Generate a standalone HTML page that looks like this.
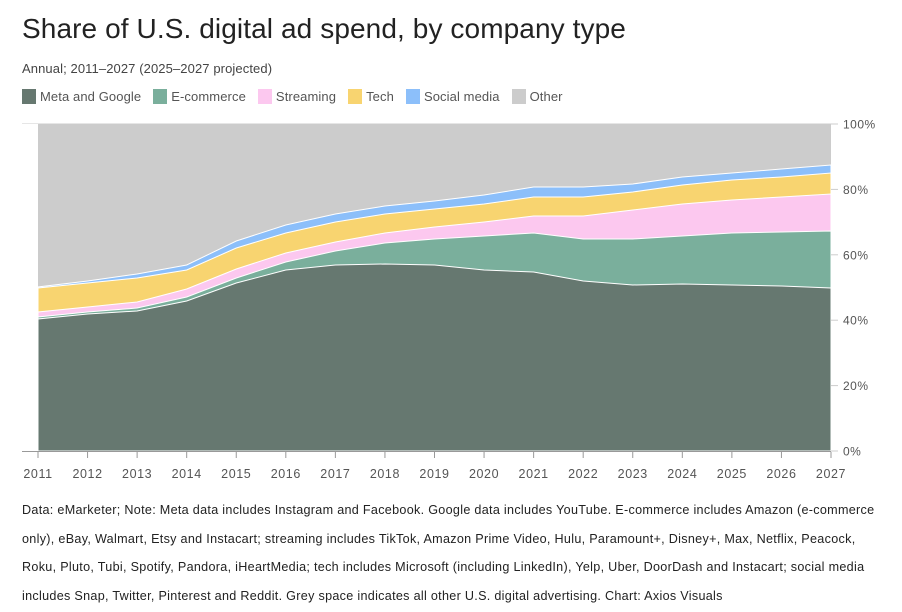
<!DOCTYPE html>
<html><head><meta charset="utf-8"><style>
body{margin:0;background:#fff;font-family:"Liberation Sans",sans-serif;color:#333;}
#w{position:relative;width:902px;height:612px;overflow:hidden}
.t{position:absolute;left:22px;top:13px;font-size:28px;color:#222;letter-spacing:0.1px}
.s{position:absolute;left:22px;top:61px;font-size:13px;color:#444;letter-spacing:0.1px}
.lg{position:absolute;left:22px;top:89px;font-size:13px;color:#555;display:flex;gap:0;letter-spacing:0.1px}
.lg span{display:inline-flex;align-items:center;margin-right:12px}
.lg i{display:inline-block;width:14px;height:15px;margin-right:4px}
.n{position:absolute;left:22px;top:496px;width:870px;font-size:12.6px;line-height:28.5px;color:#222;letter-spacing:0.3px}
</style></head><body><div id="w">
<div class="t">Share of U.S. digital ad spend, by company type</div>
<div class="s">Annual; 2011–2027 (2025–2027 projected)</div>
<div class="lg"><span><i style="background:#667870"></i>Meta and Google</span><span><i style="background:#7aaf9c"></i>E-commerce</span><span><i style="background:#fcc8ef"></i>Streaming</span><span><i style="background:#f8d470"></i>Tech</span><span><i style="background:#8cbffa"></i>Social media</span><span><i style="background:#cccccc"></i>Other</span></div>
<svg id="c" width="902" height="612" style="position:absolute;left:0;top:0"></svg>
<div class="n">Data: eMarketer; Note: Meta data includes Instagram and Facebook. Google data includes YouTube. E-commerce includes Amazon (e-commerce only), eBay, Walmart, Etsy and Instacart; streaming includes TikTok, Amazon Prime Video, Hulu, Paramount+, Disney+, Max, Netflix, Peacock, Roku, Pluto, Tubi, Spotify, Pandora, iHeartMedia; tech includes Microsoft (including LinkedIn), Yelp, Uber, DoorDash and Instacart; social media includes Snap, Twitter, Pinterest and Reddit. Grey space indicates all other U.S. digital advertising. Chart: Axios Visuals</div>
</div>
<script>
var x0=38,x1=831,yb=451,yt=124;
var X=function(i){return x0+(x1-x0)*i/16};
var L=[
[319,314,311,301,283,270,265,264,265,270,272,281,285,284,285,286,288],
[317,312,308,297,278,262,251,243,239,236,233,239,239,236,233,232,231],
[312,307,302,289,269,253,242,233,227,222,216,216,210,204,200,197,194],
[288,283,278,270,248,233,222,214,209,204,197,197,192,185,180,177,173],
[287,281,274,265,241,225,214,206,201,195,187,187,184,177,173,169,165]];
var cols=['#667870','#7aaf9c','#fcc8ef','#f8d470','#8cbffa'];
var s='';
s+='<rect x="'+x0+'" y="'+yt+'" width="'+(x1-x0)+'" height="'+(yb-yt)+'" fill="#cccccc"/>';
for(var k=4;k>=0;k--){var d='M'+x0+' '+yb;for(var i=0;i<17;i++)d+=' L'+X(i).toFixed(1)+' '+L[k][i];d+=' L'+x1+' '+yb+' Z';s+='<path d="'+d+'" fill="'+cols[k]+'" stroke="#fff" stroke-width="1"/>';}
s+='<line x1="22" x2="831" y1="123.5" y2="123.5" stroke="#e6e6e6"/>';
for(var p=0;p<=5;p++){var y=yb-(yb-yt)*p/5;
 s+='<line x1="831" x2="838" y1="'+y+'" y2="'+y+'" stroke="#ccc"/>';
 s+='<text x="843" y="'+(y+4.5)+'" font-size="12" letter-spacing="0.5" fill="#555" font-family="Liberation Sans">'+(p*20)+'%</text>';}
s+='<line x1="22" x2="831" y1="451.5" y2="451.5" stroke="#999"/>';
for(var i=0;i<17;i++){s+='<line x1="'+X(i)+'" x2="'+X(i)+'" y1="452" y2="458" stroke="#999"/>';
 s+='<text x="'+X(i)+'" y="478" text-anchor="middle" font-size="12.5" letter-spacing="0.6" fill="#555" font-family="Liberation Sans">'+(2011+i)+'</text>';}
document.getElementById('c').innerHTML=s;
</script>
</body></html>
